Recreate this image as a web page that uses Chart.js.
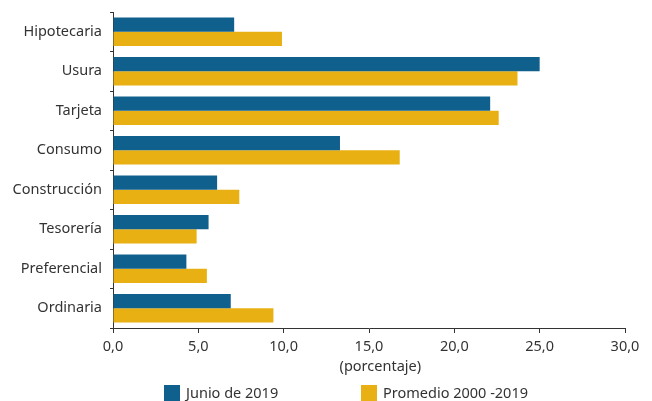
<!DOCTYPE html>
<html>
<head>
<meta charset="utf-8">
<script src="https://cdn.jsdelivr.net/npm/chart.js@4/dist/chart.umd.min.js"></script>
<style>
  html, body { margin: 0; padding: 0; background: #fff; }
  #wrap { width: 652px; height: 401px; }
</style>
</head>
<body>
<div id="wrap"><canvas id="myChart"></canvas></div>
<script>
// categories and series
const categories = ['Hipotecaria', 'Usura', 'Tarjeta', 'Consumo', 'Construcción', 'Tesorería', 'Preferencial', 'Ordinaria'];
const junio2019 = [7.1, 25.0, 22.1, 13.3, 6.1, 5.6, 4.3, 6.9];
const promedio = [9.9, 23.7, 22.6, 16.8, 7.4, 4.9, 5.5, 9.4];
const seriesNames = ['Junio de 2019', 'Promedio 2000 -2019'];
const xTicks = [0, 5, 10, 15, 20, 25, 30];

const BLUE = '#10608e';
const GOLD = '#e8b012';
const INK = '#333333';
const FONT = "'Noto Sans', sans-serif";
const SIZE = 14.5;

// legend drawn at the bottom, items spaced wide like the original
const bottomLegend = {
  id: 'bottomLegend',
  afterDraw(chart) {
    const ctx = chart.ctx;
    const xs = [164, 361];
    ctx.save();
    ctx.font = SIZE + 'px ' + FONT;
    ctx.textBaseline = 'middle';
    chart.data.datasets.forEach((ds, i) => {
      ctx.fillStyle = ds.backgroundColor;
      ctx.fillRect(xs[i], 385, 16, 16);
      ctx.fillStyle = INK;
      ctx.fillText(ds.label, xs[i] + 22, 394);
    });
    ctx.restore();
  }
};

const ctx = document.getElementById('myChart').getContext('2d');
const chart = new Chart(ctx, {
  type: 'bar',
  data: {
    labels: categories,
    datasets: [
      { label: seriesNames[0], data: junio2019, backgroundColor: BLUE },
      { label: seriesNames[1], data: promedio, backgroundColor: GOLD }
    ]
  },
  options: {
    indexAxis: 'y',
    responsive: true,
    maintainAspectRatio: false,
    animation: false,
    layout: { padding: { top: 12, right: 27, bottom: 25, left: 0 } },
    datasets: { bar: { categoryPercentage: 0.72, barPercentage: 1.0 } },
    plugins: {
      legend: { display: false },
      tooltip: { enabled: false }
    },
    scales: {
      x: {
        min: 0,
        max: 30,
        afterBuildTicks: s => { s.ticks = xTicks.map(v => ({ value: v })); },
        afterFit: s => { s.height = 48; },
        border: { color: INK, width: 1 },
        grid: { drawOnChartArea: false, tickLength: 5, color: INK },
        ticks: {
          color: INK,
          font: { family: FONT, size: SIZE },
          padding: 5,
          maxRotation: 0,
          callback: v => v.toFixed(1).replace('.', ',')
        },
        title: {
          display: true,
          // leading spaces nudge the centred title right, as in the original
          text: '\u00a0\u00a0\u00a0\u00a0\u00a0\u00a0(porcentaje)',
          color: INK,
          font: { family: FONT, size: SIZE },
          padding: { top: -13, bottom: 0 }
        }
      },
      y: {
        afterFit: s => { s.width = 113; s.paddingTop = 0; s.paddingBottom = 0; },
        border: { color: INK, width: 1 },
        grid: { drawOnChartArea: false, tickLength: 3, color: INK, offset: true },
        ticks: {
          color: INK,
          font: { family: FONT, size: SIZE },
          padding: 8
        }
      }
    }
  },
  plugins: [bottomLegend]
});
</script>
</body>
</html>
